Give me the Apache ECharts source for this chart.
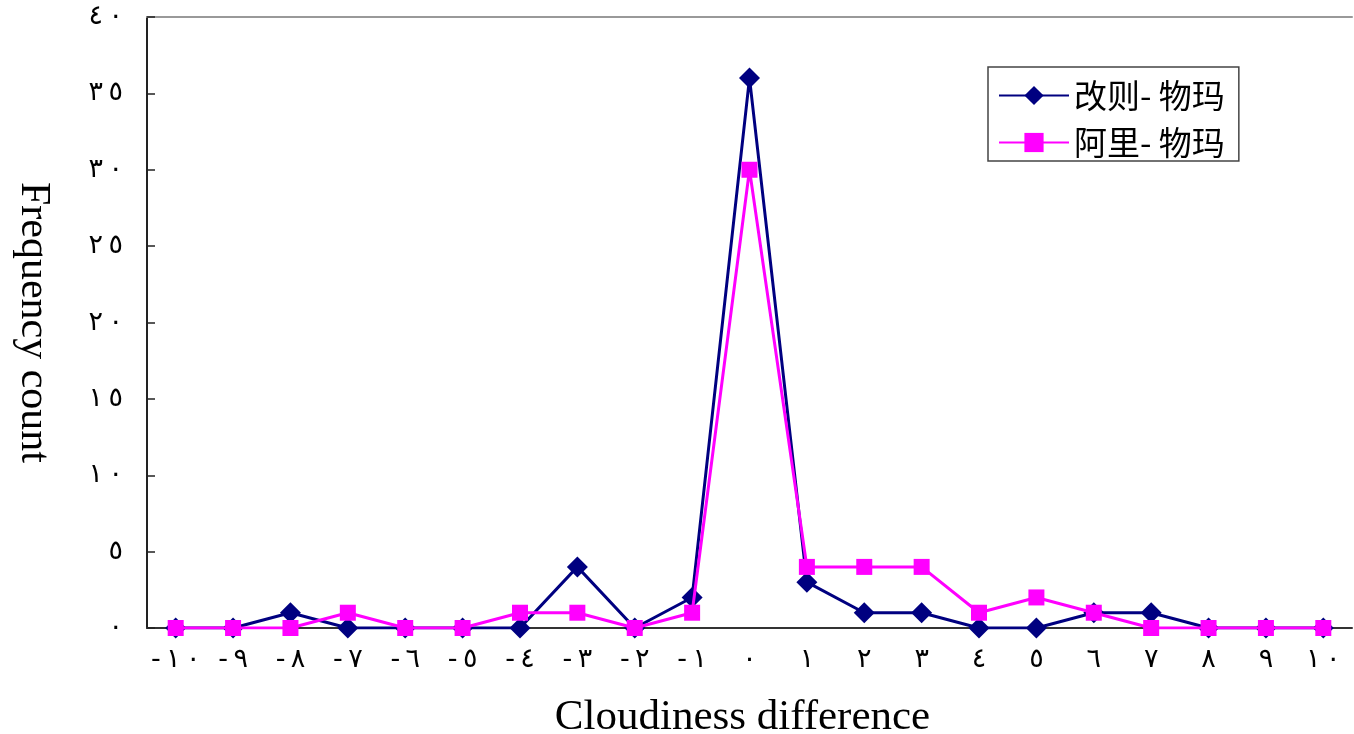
<!DOCTYPE html>
<html>
<head>
<meta charset="utf-8">
<script src="https://cdn.jsdelivr.net/npm/echarts@6/dist/echarts.min.js"></script>
<style>
    html, body { margin: 0; padding: 0; background: #fff; }
    #chart { width: 1354px; height: 734px; }
</style>
</head>
<body>
<div id="chart"></div>
<script>
// categories (cloudiness difference) and their printed labels
const categories = [-10, -9, -8, -7, -6, -5, -4, -3, -2, -1, 0, 1, 2, 3, 4, 5, 6, 7, 8, 9, 10];
const xTickLabels = ['-١٠', '-٩', '-٨', '-٧', '-٦', '-٥', '-٤', '-٣', '-٢', '-١',
    '٠', '١', '٢', '٣', '٤', '٥', '٦', '٧', '٨', '٩', '١٠'];
const yTickValues = [0, 5, 10, 15, 20, 25, 30, 35, 40];
const yTickLabels = ['٠', '٥', '١٠', '١٥', '٢٠', '٢٥', '٣٠', '٣٥', '٤٠'];

const gaizeWuma = [0, 0, 1, 0, 0, 0, 0, 4, 0, 2, 36, 3, 1, 1, 0, 0, 1, 1, 0, 0, 0];
const aliWuma = [0, 0, 0, 1, 0, 0, 1, 1, 0, 1, 30, 4, 4, 4, 1, 2, 1, 0, 0, 0, 0];

const seriesNames = ['改则- 物玛', '阿里- 物玛'];

// spread the glyphs apart a little like the original; LRM keeps the digits left-to-right
function spaced(s) {
    return '\u200E' + s.split('').join('\u200E\u2009\u200E') + '\u200E';
}

const chart = echarts.init(document.getElementById('chart'));

const option = {
    animation: false,
    grid: { left: 147, right: 2, top: 17, bottom: 106, outerBoundsMode: 'none', containLabel: false },
    legend: {
        orient: 'vertical',
        left: 988,
        top: 67,
        padding: [12, 14, 2, 10],
        borderColor: '#444',
        borderWidth: 1.5,
        itemWidth: 70,
        itemHeight: 24,
        itemGap: 14,
        textStyle: {
            fontFamily: 'Noto Sans CJK SC',
            fontSize: 33,
            color: '#000',
        },
        data: seriesNames,
    },
    xAxis: [
        {
            type: 'category',
            data: categories,
            boundaryGap: true,
            axisLine: { lineStyle: { color: '#333', width: 2 } },
            axisTick: { inside: true, length: 8, lineStyle: { color: '#333', width: 1.5 } },
            axisLabel: {
                interval: 0,
                margin: 18,
                fontFamily: 'DejaVu Sans',
                fontSize: 27,
                color: '#000',
                formatter: function (v, i) { return spaced(xTickLabels[i]); },
            },
            name: 'Cloudiness difference',
            nameLocation: 'middle',
            nameGap: 68,
            nameTextStyle: { fontFamily: 'Liberation Serif', fontSize: 43, color: '#000', padding: [0, 14, 0, 0] },
        },
        {
            type: 'category',
            position: 'top',
            data: categories,
            axisLine: { lineStyle: { color: '#999', width: 2 } },
            axisTick: { show: false },
            axisLabel: { show: false },
        },
    ],
    yAxis: {
        type: 'value',
        min: 0,
        max: 40,
        interval: 5,
        axisLine: { show: true, lineStyle: { color: '#222', width: 2 } },
        axisTick: { show: true, inside: true, length: 8, lineStyle: { color: '#222', width: 1.5 } },
        splitLine: { show: false },
        axisLabel: {
            margin: 24,
            fontFamily: 'DejaVu Sans',
            fontSize: 27,
            color: '#000',
            formatter: function (v) { return spaced(yTickLabels[yTickValues.indexOf(v)]); },
        },
        name: 'Frequency count',
        nameLocation: 'middle',
        nameRotate: -90,
        nameGap: 93,
        nameTextStyle: { fontFamily: 'Liberation Serif', fontSize: 42, color: '#000' },
    },
    series: [
        {
            name: seriesNames[0],
            type: 'line',
            data: gaizeWuma,
            symbol: 'diamond',
            symbolSize: 21,
            lineStyle: { color: '#000080', width: 3 },
            itemStyle: { color: '#000080' },
            z: 2,
        },
        {
            name: seriesNames[1],
            type: 'line',
            data: aliWuma,
            symbol: 'rect',
            symbolSize: 16,
            lineStyle: { color: '#ff00ff', width: 3 },
            itemStyle: { color: '#ff00ff' },
            z: 3,
        },
    ],
};

chart.setOption(option);
</script>
</body>
</html>
